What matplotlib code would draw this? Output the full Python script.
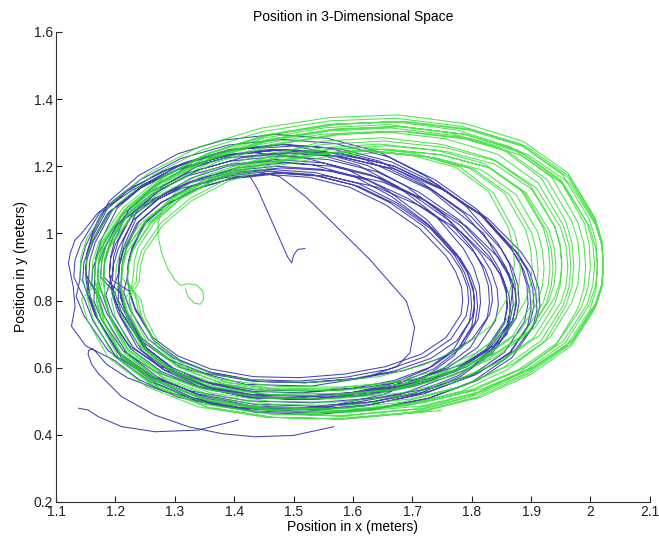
import matplotlib
matplotlib.use("Agg")
import matplotlib.pyplot as plt

plt.rcParams['font.family'] = ['Liberation Sans', 'DejaVu Sans']

# green trajectory: start (small loop, then climb into the band), loops, end
green_start_x = [1.318, 1.322, 1.333, 1.343, 1.349, 1.347, 1.337, 1.322, 1.31, 1.30, 1.288, 1.278, 1.272, 1.272, 1.28, 1.30, 1.34, 1.40, 1.47]
green_start_y = [0.835, 0.812, 0.792, 0.789, 0.805, 0.828, 0.846, 0.85, 0.845, 0.862, 0.895, 0.941, 0.99, 1.03, 1.08, 1.12, 1.165, 1.20, 1.235]

green_loop_x = [
    1.55, 1.65, 1.75, 1.835, 1.90, 1.94, 1.949, 1.952, 1.949, 1.94, 1.905, 1.845, 1.77, 1.68, 1.57, 1.46, 1.36, 1.285, 1.23, 1.20, 1.193,
    1.21, 1.212, 1.219, 1.252, 1.304, 1.37, 1.455, 1.55, 1.645, 1.74, 1.821, 1.883, 1.921, 1.929, 1.932, 1.929, 1.921, 1.888, 1.831, 1.76, 1.675, 1.57, 1.465, 1.37, 1.299, 1.247, 1.219, 1.213,
    1.21, 1.212, 1.219, 1.251, 1.301, 1.365, 1.448, 1.54, 1.632, 1.725, 1.804, 1.864, 1.901, 1.909, 1.912, 1.909, 1.901, 1.869, 1.814, 1.745, 1.662, 1.56, 1.458, 1.365, 1.296, 1.246, 1.219, 1.213,
    1.235, 1.237, 1.244, 1.276, 1.326, 1.39, 1.473, 1.565, 1.657, 1.75, 1.829, 1.889, 1.926, 1.934, 1.937, 1.934, 1.926, 1.894, 1.839, 1.77, 1.687, 1.585, 1.483, 1.39, 1.321, 1.271, 1.244, 1.238,
    1.22, 1.222, 1.229, 1.26, 1.308, 1.37, 1.45, 1.54, 1.63, 1.72, 1.797, 1.855, 1.891, 1.899, 1.902, 1.899, 1.891, 1.86, 1.807, 1.74, 1.66, 1.56, 1.46, 1.37, 1.303, 1.255, 1.229, 1.223,
    1.24, 1.242, 1.249, 1.28, 1.328, 1.39, 1.47, 1.56, 1.65, 1.74, 1.817, 1.875, 1.911, 1.919, 1.922, 1.919, 1.911, 1.88, 1.827, 1.76, 1.68, 1.58, 1.48, 1.39, 1.323, 1.275, 1.249, 1.243,
    1.22, 1.222, 1.228, 1.258, 1.305, 1.365, 1.443, 1.53, 1.617, 1.705, 1.78, 1.837, 1.872, 1.879, 1.882, 1.879, 1.872, 1.842, 1.79, 1.725, 1.647, 1.55, 1.453, 1.365, 1.30, 1.253, 1.228, 1.223,
    1.23, 1.232, 1.238, 1.267, 1.312, 1.37, 1.446, 1.53, 1.614, 1.70, 1.773, 1.828, 1.862, 1.869, 1.872, 1.869, 1.862, 1.833, 1.783, 1.72, 1.644, 1.55, 1.456, 1.37, 1.307, 1.262, 1.238, 1.233,
    1.21, 1.212, 1.22, 1.254, 1.307, 1.375, 1.463, 1.56, 1.657, 1.755, 1.838, 1.901, 1.94, 1.949, 1.952, 1.949, 1.94, 1.906, 1.848, 1.775, 1.687, 1.58, 1.473, 1.375, 1.302, 1.249, 1.22, 1.213,
    1.20, 1.202, 1.21, 1.244, 1.297, 1.365, 1.453, 1.55, 1.647, 1.745, 1.828, 1.891, 1.93, 1.939, 1.942, 1.939, 1.93, 1.896, 1.838, 1.765, 1.677, 1.57, 1.463, 1.365, 1.292, 1.239, 1.21, 1.203,
    1.18, 1.182, 1.19, 1.226, 1.283, 1.355, 1.447, 1.55, 1.653, 1.755, 1.842, 1.909, 1.95, 1.959, 1.962, 1.959, 1.95, 1.914, 1.852, 1.775, 1.683, 1.57, 1.457, 1.355, 1.278, 1.221, 1.19, 1.183,
    1.18, 1.182, 1.191, 1.227, 1.284, 1.357, 1.451, 1.555, 1.659, 1.763, 1.851, 1.918, 1.959, 1.969, 1.972, 1.969, 1.959, 1.923, 1.861, 1.783, 1.689, 1.575, 1.461, 1.357, 1.279, 1.222, 1.191, 1.183,
    1.165, 1.167, 1.176, 1.213, 1.271, 1.345, 1.44, 1.545, 1.65, 1.755, 1.844, 1.912, 1.954, 1.964, 1.967, 1.964, 1.954, 1.917, 1.854, 1.775, 1.68, 1.565, 1.45, 1.345, 1.266, 1.208, 1.176, 1.168,
    1.18, 1.182, 1.191, 1.228, 1.286, 1.36, 1.455, 1.56, 1.665, 1.77, 1.859, 1.927, 1.969, 1.979, 1.982, 1.979, 1.969, 1.932, 1.869, 1.79, 1.695, 1.58, 1.465, 1.36, 1.281, 1.223, 1.191, 1.183,
    1.18, 1.182, 1.191, 1.23, 1.292, 1.37, 1.47, 1.58, 1.69, 1.80, 1.893, 1.965, 2.009, 2.019, 2.022, 2.019, 2.009, 1.97, 1.903, 1.82, 1.72, 1.60, 1.48, 1.37, 1.287, 1.225, 1.191, 1.183,
    1.17, 1.172, 1.181, 1.219, 1.279, 1.355, 1.452, 1.56, 1.668, 1.775, 1.866, 1.936, 1.979, 1.989, 1.992, 1.989, 1.979, 1.941, 1.876, 1.795, 1.698, 1.58, 1.462, 1.355, 1.274, 1.214, 1.181, 1.173,
    1.165, 1.167, 1.176, 1.215, 1.277, 1.355, 1.455, 1.565, 1.675, 1.785, 1.878, 1.95, 1.994, 2.004, 2.007, 2.004, 1.994, 1.955, 1.888, 1.805, 1.705, 1.585, 1.465, 1.355, 1.272, 1.21, 1.176, 1.168,
    1.17, 1.172, 1.181, 1.22, 1.282, 1.36, 1.46, 1.57, 1.68, 1.79, 1.883, 1.955, 1.999, 2.009, 2.012, 2.009, 1.999, 1.96, 1.893, 1.81, 1.71, 1.59, 1.47, 1.36, 1.277, 1.215, 1.181, 1.173,
    1.17, 1.172, 1.182, 1.221, 1.283, 1.362, 1.463, 1.575, 1.687, 1.798, 1.892, 1.964, 2.008, 2.019, 2.022, 2.019, 2.008, 1.969, 1.902, 1.818, 1.717, 1.595, 1.473, 1.362, 1.278, 1.216, 1.182, 1.173,
    1.15, 1.152, 1.162, 1.202, 1.265, 1.345, 1.447, 1.56, 1.673, 1.785, 1.88, 1.953, 1.998, 2.009, 2.012, 2.009, 1.998, 1.958, 1.89, 1.805, 1.703, 1.58, 1.457, 1.345, 1.26, 1.197, 1.162, 1.153,
    1.16, 1.162, 1.172, 1.212, 1.275, 1.355, 1.457, 1.57, 1.683, 1.795, 1.89, 1.963, 2.008, 2.019, 2.022, 2.019, 2.008, 1.968, 1.90, 1.815, 1.713, 1.59, 1.467, 1.355, 1.27, 1.207, 1.172, 1.163,
    1.14, 1.142, 1.152, 1.193, 1.258, 1.34, 1.444, 1.56, 1.676, 1.79, 1.887, 1.962, 2.008, 2.019, 2.022, 2.019, 2.008, 1.967, 1.897, 1.81, 1.706, 1.58, 1.454, 1.34, 1.253, 1.188, 1.152, 1.143,
]
green_loop_y = [
    1.275, 1.285, 1.265, 1.222, 1.14, 1.02, 0.962, 0.90, 0.843, 0.79, 0.69, 0.615, 0.555, 0.515, 0.497, 0.50, 0.525, 0.575, 0.65, 0.75, 0.803,
    0.86, 0.909, 0.955, 1.04, 1.116, 1.178, 1.226, 1.255, 1.266, 1.248, 1.208, 1.13, 1.015, 0.959, 0.90, 0.846, 0.795, 0.70, 0.629, 0.572, 0.534, 0.517, 0.519, 0.542, 0.589, 0.66, 0.755, 0.806,
    0.85, 0.898, 0.942, 1.025, 1.099, 1.159, 1.206, 1.235, 1.246, 1.229, 1.191, 1.115, 1.002, 0.948, 0.89, 0.837, 0.788, 0.695, 0.626, 0.571, 0.534, 0.517, 0.519, 0.541, 0.586, 0.655, 0.748, 0.797,
    0.855, 0.903, 0.947, 1.03, 1.104, 1.164, 1.211, 1.24, 1.251, 1.234, 1.196, 1.12, 1.007, 0.953, 0.895, 0.842, 0.793, 0.70, 0.631, 0.576, 0.539, 0.522, 0.524, 0.546, 0.591, 0.66, 0.753, 0.802,
    0.86, 0.907, 0.95, 1.03, 1.102, 1.16, 1.206, 1.235, 1.246, 1.23, 1.194, 1.12, 1.01, 0.957, 0.90, 0.848, 0.80, 0.71, 0.643, 0.59, 0.554, 0.537, 0.539, 0.56, 0.603, 0.67, 0.76, 0.808,
    0.855, 0.902, 0.945, 1.025, 1.097, 1.155, 1.201, 1.23, 1.241, 1.225, 1.189, 1.115, 1.005, 0.952, 0.895, 0.843, 0.795, 0.705, 0.638, 0.585, 0.549, 0.532, 0.534, 0.555, 0.598, 0.665, 0.755, 0.803,
    0.85, 0.899, 0.945, 1.03, 1.106, 1.168, 1.216, 1.245, 1.256, 1.238, 1.198, 1.12, 1.005, 0.949, 0.89, 0.836, 0.785, 0.69, 0.619, 0.562, 0.524, 0.507, 0.509, 0.532, 0.579, 0.65, 0.745, 0.796,
    0.87, 0.915, 0.957, 1.035, 1.105, 1.162, 1.207, 1.235, 1.247, 1.232, 1.197, 1.125, 1.017, 0.965, 0.91, 0.86, 0.813, 0.725, 0.66, 0.608, 0.573, 0.557, 0.558, 0.578, 0.62, 0.685, 0.773, 0.82,
    0.87, 0.917, 0.961, 1.042, 1.115, 1.175, 1.221, 1.25, 1.261, 1.245, 1.207, 1.132, 1.021, 0.967, 0.91, 0.858, 0.809, 0.718, 0.65, 0.595, 0.559, 0.542, 0.544, 0.565, 0.61, 0.678, 0.769, 0.818,
    0.86, 0.907, 0.951, 1.032, 1.105, 1.165, 1.211, 1.24, 1.251, 1.235, 1.197, 1.122, 1.011, 0.957, 0.90, 0.848, 0.799, 0.708, 0.64, 0.585, 0.549, 0.532, 0.534, 0.555, 0.60, 0.668, 0.759, 0.808,
    0.86, 0.911, 0.957, 1.045, 1.123, 1.186, 1.235, 1.265, 1.275, 1.256, 1.215, 1.135, 1.017, 0.961, 0.90, 0.844, 0.793, 0.695, 0.622, 0.564, 0.525, 0.507, 0.51, 0.534, 0.582, 0.655, 0.753, 0.804,
    0.865, 0.922, 0.974, 1.073, 1.16, 1.23, 1.284, 1.315, 1.324, 1.30, 1.252, 1.163, 1.034, 0.972, 0.905, 0.843, 0.786, 0.677, 0.595, 0.53, 0.486, 0.467, 0.471, 0.50, 0.555, 0.637, 0.746, 0.803,
    0.86, 0.915, 0.965, 1.06, 1.144, 1.212, 1.264, 1.295, 1.304, 1.282, 1.236, 1.15, 1.025, 0.965, 0.90, 0.84, 0.785, 0.68, 0.601, 0.538, 0.496, 0.477, 0.481, 0.508, 0.561, 0.64, 0.745, 0.80,
    0.87, 0.925, 0.975, 1.07, 1.154, 1.222, 1.274, 1.305, 1.314, 1.292, 1.246, 1.16, 1.035, 0.975, 0.91, 0.85, 0.795, 0.69, 0.611, 0.548, 0.506, 0.487, 0.491, 0.518, 0.571, 0.65, 0.755, 0.81,
    0.86, 0.915, 0.965, 1.06, 1.144, 1.212, 1.264, 1.295, 1.304, 1.282, 1.236, 1.15, 1.025, 0.965, 0.90, 0.84, 0.785, 0.68, 0.601, 0.538, 0.496, 0.477, 0.481, 0.508, 0.561, 0.64, 0.745, 0.80,
    0.86, 0.919, 0.973, 1.075, 1.165, 1.238, 1.293, 1.325, 1.333, 1.308, 1.257, 1.165, 1.033, 0.969, 0.90, 0.836, 0.777, 0.665, 0.58, 0.512, 0.467, 0.447, 0.452, 0.482, 0.54, 0.625, 0.737, 0.796,
    0.865, 0.921, 0.973, 1.07, 1.156, 1.226, 1.279, 1.31, 1.319, 1.296, 1.248, 1.16, 1.033, 0.971, 0.905, 0.844, 0.787, 0.68, 0.599, 0.534, 0.491, 0.472, 0.476, 0.504, 0.559, 0.64, 0.747, 0.804,
    0.85, 0.906, 0.958, 1.055, 1.141, 1.211, 1.264, 1.295, 1.304, 1.281, 1.233, 1.145, 1.018, 0.956, 0.89, 0.829, 0.772, 0.665, 0.584, 0.519, 0.476, 0.457, 0.461, 0.489, 0.544, 0.625, 0.732, 0.789,
    0.87, 0.927, 0.98, 1.08, 1.168, 1.24, 1.294, 1.325, 1.334, 1.31, 1.26, 1.17, 1.04, 0.977, 0.91, 0.848, 0.79, 0.68, 0.597, 0.53, 0.486, 0.467, 0.471, 0.50, 0.557, 0.64, 0.75, 0.808,
    0.87, 0.929, 0.983, 1.085, 1.175, 1.248, 1.303, 1.335, 1.343, 1.318, 1.267, 1.175, 1.043, 0.979, 0.91, 0.846, 0.787, 0.675, 0.59, 0.522, 0.477, 0.457, 0.462, 0.492, 0.55, 0.635, 0.747, 0.806,
    0.86, 0.919, 0.973, 1.075, 1.165, 1.238, 1.293, 1.325, 1.333, 1.308, 1.257, 1.165, 1.033, 0.969, 0.90, 0.836, 0.777, 0.665, 0.58, 0.512, 0.467, 0.447, 0.452, 0.482, 0.54, 0.625, 0.737, 0.796,
    0.87, 0.93, 0.986, 1.09, 1.182, 1.257, 1.313, 1.345, 1.353, 1.327, 1.274, 1.18, 1.046, 0.98, 0.91, 0.845, 0.784, 0.67, 0.583, 0.513, 0.467, 0.447, 0.452, 0.483, 0.543, 0.63, 0.744, 0.805,
]
green_end_x = [1.175, 1.177, 1.185, 1.22, 1.28, 1.36, 1.46, 1.57, 1.68, 1.79, 1.88, 1.95, 1.99, 1.998, 2.0, 1.996, 1.985, 1.945, 1.88, 1.80, 1.70, 1.60, 1.50, 1.60, 1.749]
green_end_y = [0.86, 0.915, 0.97, 1.07, 1.155, 1.225, 1.28, 1.31, 1.318, 1.295, 1.245, 1.155, 1.03, 0.965, 0.90, 0.84, 0.78, 0.675, 0.595, 0.535, 0.495, 0.472, 0.463, 0.452, 0.472]

# blue trajectory: start hook + first inner loop, loops, wide loop, hook and bottom tail
blue_start_x = [1.519, 1.507, 1.50, 1.497, 1.49, 1.47, 1.45, 1.44, 1.427, 1.45, 1.477, 1.52, 1.561, 1.629, 1.69, 1.704, 1.696, 1.674, 1.62, 1.53, 1.42, 1.31, 1.235, 1.205]
blue_start_y = [0.955, 0.952, 0.935, 0.912, 0.93, 1.01, 1.09, 1.13, 1.169, 1.18, 1.169, 1.11, 1.04, 0.921, 0.798, 0.72, 0.644, 0.603, 0.57, 0.545, 0.55, 0.60, 0.70, 0.80]

blue_loop_x = [
    1.205, 1.207, 1.214, 1.236, 1.276, 1.33, 1.393, 1.465, 1.537, 1.61, 1.674, 1.734, 1.781, 1.798, 1.808, 1.81, 1.806, 1.779, 1.734, 1.67, 1.597, 1.515, 1.433, 1.355, 1.296, 1.251, 1.219, 1.209,
    1.205, 1.207, 1.214, 1.235, 1.275, 1.328, 1.389, 1.46, 1.531, 1.602, 1.665, 1.725, 1.771, 1.788, 1.798, 1.80, 1.796, 1.77, 1.725, 1.662, 1.591, 1.51, 1.429, 1.353, 1.295, 1.25, 1.219, 1.209,
    1.21, 1.212, 1.219, 1.24, 1.278, 1.33, 1.39, 1.46, 1.53, 1.60, 1.662, 1.72, 1.766, 1.783, 1.793, 1.795, 1.791, 1.765, 1.722, 1.66, 1.59, 1.51, 1.43, 1.355, 1.298, 1.255, 1.224, 1.214,
    1.22, 1.222, 1.229, 1.25, 1.288, 1.34, 1.40, 1.47, 1.54, 1.61, 1.672, 1.73, 1.776, 1.793, 1.803, 1.805, 1.801, 1.775, 1.732, 1.67, 1.60, 1.52, 1.44, 1.365, 1.308, 1.265, 1.234, 1.224,
    1.22, 1.222, 1.228, 1.248, 1.285, 1.335, 1.393, 1.46, 1.527, 1.595, 1.655, 1.712, 1.757, 1.773, 1.783, 1.785, 1.782, 1.757, 1.715, 1.655, 1.587, 1.51, 1.433, 1.36, 1.305, 1.263, 1.233, 1.224,
    1.195, 1.197, 1.205, 1.23, 1.275, 1.335, 1.405, 1.485, 1.565, 1.645, 1.715, 1.78, 1.83, 1.848, 1.858, 1.86, 1.855, 1.825, 1.775, 1.705, 1.625, 1.535, 1.445, 1.36, 1.295, 1.245, 1.21, 1.199,
    1.19, 1.192, 1.20, 1.224, 1.267, 1.325, 1.393, 1.47, 1.547, 1.625, 1.693, 1.756, 1.805, 1.823, 1.833, 1.835, 1.83, 1.801, 1.753, 1.685, 1.607, 1.52, 1.433, 1.35, 1.287, 1.239, 1.205, 1.194,
    1.19, 1.192, 1.199, 1.222, 1.264, 1.32, 1.385, 1.46, 1.535, 1.61, 1.676, 1.738, 1.786, 1.803, 1.813, 1.815, 1.811, 1.783, 1.736, 1.67, 1.595, 1.51, 1.425, 1.345, 1.284, 1.237, 1.204, 1.194,
    1.205, 1.207, 1.214, 1.237, 1.279, 1.335, 1.40, 1.475, 1.55, 1.625, 1.691, 1.753, 1.801, 1.818, 1.828, 1.83, 1.826, 1.798, 1.751, 1.685, 1.61, 1.525, 1.44, 1.36, 1.299, 1.252, 1.219, 1.209,
    1.18, 1.182, 1.19, 1.215, 1.26, 1.32, 1.39, 1.47, 1.55, 1.63, 1.70, 1.765, 1.815, 1.833, 1.843, 1.845, 1.84, 1.81, 1.76, 1.69, 1.61, 1.52, 1.43, 1.345, 1.28, 1.23, 1.195, 1.184,
    1.195, 1.197, 1.205, 1.231, 1.278, 1.34, 1.412, 1.495, 1.578, 1.66, 1.732, 1.799, 1.85, 1.868, 1.878, 1.88, 1.875, 1.844, 1.792, 1.72, 1.638, 1.545, 1.452, 1.365, 1.298, 1.246, 1.21, 1.199,
    1.175, 1.177, 1.185, 1.211, 1.258, 1.32, 1.392, 1.475, 1.558, 1.64, 1.712, 1.779, 1.83, 1.848, 1.858, 1.86, 1.855, 1.824, 1.772, 1.70, 1.618, 1.525, 1.432, 1.345, 1.278, 1.226, 1.19, 1.179,
    1.17, 1.172, 1.181, 1.208, 1.256, 1.32, 1.395, 1.48, 1.565, 1.65, 1.724, 1.792, 1.844, 1.863, 1.873, 1.875, 1.869, 1.837, 1.784, 1.71, 1.625, 1.53, 1.435, 1.345, 1.276, 1.223, 1.186, 1.174,
    1.16, 1.162, 1.171, 1.198, 1.246, 1.31, 1.385, 1.47, 1.555, 1.64, 1.714, 1.782, 1.834, 1.853, 1.863, 1.865, 1.859, 1.827, 1.774, 1.70, 1.615, 1.52, 1.425, 1.335, 1.266, 1.213, 1.176, 1.164,
    1.165, 1.167, 1.176, 1.203, 1.251, 1.315, 1.39, 1.475, 1.56, 1.645, 1.719, 1.787, 1.839, 1.858, 1.868, 1.87, 1.864, 1.832, 1.779, 1.705, 1.62, 1.525, 1.43, 1.34, 1.271, 1.218, 1.181, 1.169,
    1.15, 1.152, 1.161, 1.19, 1.242, 1.31, 1.39, 1.48, 1.57, 1.66, 1.738, 1.81, 1.864, 1.883, 1.893, 1.895, 1.889, 1.855, 1.798, 1.72, 1.63, 1.53, 1.43, 1.335, 1.262, 1.205, 1.166, 1.154,
    1.155, 1.157, 1.166, 1.195, 1.247, 1.315, 1.395, 1.485, 1.575, 1.665, 1.743, 1.815, 1.869, 1.888, 1.898, 1.90, 1.894, 1.86, 1.803, 1.725, 1.635, 1.535, 1.435, 1.34, 1.267, 1.21, 1.171, 1.159,
    1.15, 1.152, 1.161, 1.189, 1.239, 1.305, 1.382, 1.47, 1.558, 1.645, 1.721, 1.791, 1.844, 1.863, 1.873, 1.875, 1.869, 1.836, 1.781, 1.705, 1.618, 1.52, 1.422, 1.33, 1.259, 1.204, 1.166, 1.154,
    1.15, 1.152, 1.162, 1.191, 1.243, 1.312, 1.393, 1.485, 1.577, 1.668, 1.747, 1.819, 1.873, 1.893, 1.903, 1.905, 1.898, 1.864, 1.807, 1.728, 1.637, 1.535, 1.433, 1.337, 1.263, 1.206, 1.167, 1.154,
    1.145, 1.147, 1.157, 1.187, 1.24, 1.31, 1.392, 1.485, 1.578, 1.67, 1.75, 1.823, 1.878, 1.898, 1.908, 1.91, 1.903, 1.868, 1.81, 1.73, 1.638, 1.535, 1.432, 1.335, 1.26, 1.202, 1.162, 1.149,
    1.13, 1.132, 1.142, 1.173, 1.228, 1.30, 1.384, 1.48, 1.576, 1.67, 1.752, 1.827, 1.883, 1.903, 1.913, 1.915, 1.908, 1.872, 1.812, 1.73, 1.636, 1.53, 1.424, 1.325, 1.248, 1.188, 1.147, 1.134,
    1.14, 1.142, 1.15, 1.175, 1.22, 1.28, 1.35, 1.43, 1.51, 1.59, 1.66, 1.725, 1.775, 1.793, 1.803, 1.805, 1.80, 1.77, 1.72, 1.65, 1.57, 1.48, 1.39, 1.305, 1.24,
]
blue_loop_y = [
    0.86, 0.905, 0.95, 1.03, 1.091, 1.143, 1.176, 1.19, 1.181, 1.148, 1.091, 1.015, 0.925, 0.875, 0.825, 0.78, 0.735, 0.66, 0.604, 0.562, 0.537, 0.525, 0.529, 0.555, 0.599, 0.66, 0.755, 0.808,
    0.865, 0.913, 0.96, 1.045, 1.11, 1.165, 1.20, 1.215, 1.205, 1.17, 1.11, 1.03, 0.935, 0.883, 0.83, 0.782, 0.735, 0.655, 0.595, 0.55, 0.523, 0.51, 0.515, 0.543, 0.59, 0.655, 0.755, 0.81,
    0.875, 0.918, 0.96, 1.035, 1.092, 1.14, 1.171, 1.185, 1.176, 1.145, 1.092, 1.02, 0.935, 0.888, 0.84, 0.797, 0.755, 0.685, 0.633, 0.595, 0.572, 0.56, 0.564, 0.588, 0.628, 0.685, 0.775, 0.825,
    0.87, 0.913, 0.955, 1.03, 1.087, 1.135, 1.166, 1.18, 1.171, 1.14, 1.087, 1.015, 0.93, 0.883, 0.835, 0.792, 0.75, 0.68, 0.628, 0.59, 0.567, 0.555, 0.559, 0.583, 0.623, 0.68, 0.77, 0.82,
    0.875, 0.916, 0.957, 1.03, 1.085, 1.132, 1.162, 1.175, 1.167, 1.137, 1.085, 1.015, 0.932, 0.886, 0.84, 0.799, 0.758, 0.69, 0.64, 0.603, 0.581, 0.57, 0.573, 0.596, 0.635, 0.69, 0.778, 0.827,
    0.86, 0.908, 0.955, 1.04, 1.105, 1.16, 1.195, 1.21, 1.20, 1.165, 1.105, 1.025, 0.93, 0.878, 0.825, 0.777, 0.73, 0.65, 0.59, 0.545, 0.518, 0.505, 0.51, 0.538, 0.585, 0.65, 0.75, 0.805,
    0.88, 0.924, 0.967, 1.045, 1.104, 1.154, 1.186, 1.20, 1.191, 1.159, 1.104, 1.03, 0.942, 0.894, 0.845, 0.801, 0.758, 0.685, 0.631, 0.591, 0.567, 0.555, 0.559, 0.584, 0.626, 0.685, 0.778, 0.829,
    0.88, 0.931, 0.98, 1.07, 1.139, 1.197, 1.234, 1.25, 1.239, 1.202, 1.139, 1.055, 0.955, 0.901, 0.845, 0.794, 0.745, 0.66, 0.596, 0.548, 0.519, 0.505, 0.511, 0.541, 0.591, 0.66, 0.765, 0.822,
    0.88, 0.931, 0.98, 1.07, 1.139, 1.197, 1.234, 1.25, 1.239, 1.202, 1.139, 1.055, 0.955, 0.901, 0.845, 0.794, 0.745, 0.66, 0.596, 0.548, 0.519, 0.505, 0.511, 0.541, 0.591, 0.66, 0.765, 0.822,
    0.87, 0.918, 0.965, 1.05, 1.115, 1.17, 1.205, 1.22, 1.21, 1.175, 1.115, 1.035, 0.94, 0.888, 0.835, 0.787, 0.74, 0.66, 0.60, 0.555, 0.528, 0.515, 0.52, 0.548, 0.595, 0.66, 0.76, 0.815,
    0.88, 0.929, 0.978, 1.065, 1.132, 1.189, 1.225, 1.24, 1.23, 1.194, 1.132, 1.05, 0.953, 0.899, 0.845, 0.796, 0.747, 0.665, 0.603, 0.556, 0.528, 0.515, 0.52, 0.549, 0.598, 0.665, 0.767, 0.824,
    0.87, 0.919, 0.968, 1.055, 1.122, 1.179, 1.215, 1.23, 1.22, 1.184, 1.122, 1.04, 0.943, 0.889, 0.835, 0.786, 0.737, 0.655, 0.593, 0.546, 0.518, 0.505, 0.51, 0.539, 0.588, 0.655, 0.757, 0.814,
    0.865, 0.91, 0.955, 1.035, 1.096, 1.148, 1.181, 1.195, 1.186, 1.153, 1.096, 1.02, 0.93, 0.88, 0.83, 0.785, 0.74, 0.665, 0.609, 0.567, 0.542, 0.53, 0.534, 0.56, 0.604, 0.665, 0.76, 0.813,
    0.85, 0.895, 0.94, 1.02, 1.081, 1.133, 1.166, 1.18, 1.171, 1.138, 1.081, 1.005, 0.915, 0.865, 0.815, 0.77, 0.725, 0.65, 0.594, 0.552, 0.527, 0.515, 0.519, 0.545, 0.589, 0.65, 0.745, 0.798,
    0.875, 0.928, 0.98, 1.075, 1.148, 1.21, 1.249, 1.265, 1.254, 1.215, 1.148, 1.06, 0.955, 0.898, 0.84, 0.787, 0.735, 0.645, 0.577, 0.525, 0.494, 0.48, 0.486, 0.518, 0.572, 0.645, 0.755, 0.815,
    0.88, 0.935, 0.988, 1.085, 1.16, 1.223, 1.263, 1.28, 1.268, 1.228, 1.16, 1.07, 0.963, 0.905, 0.845, 0.79, 0.737, 0.645, 0.575, 0.522, 0.49, 0.475, 0.482, 0.515, 0.57, 0.645, 0.757, 0.818,
    0.865, 0.92, 0.973, 1.07, 1.145, 1.208, 1.248, 1.265, 1.253, 1.213, 1.145, 1.055, 0.948, 0.89, 0.83, 0.775, 0.722, 0.63, 0.56, 0.507, 0.475, 0.46, 0.467, 0.50, 0.555, 0.63, 0.742, 0.803,
    0.885, 0.941, 0.996, 1.095, 1.172, 1.237, 1.278, 1.295, 1.283, 1.242, 1.172, 1.08, 0.971, 0.911, 0.85, 0.794, 0.739, 0.645, 0.573, 0.518, 0.485, 0.47, 0.477, 0.511, 0.568, 0.645, 0.759, 0.822,
    0.87, 0.922, 0.973, 1.065, 1.136, 1.196, 1.234, 1.25, 1.239, 1.201, 1.136, 1.05, 0.948, 0.892, 0.835, 0.783, 0.732, 0.645, 0.579, 0.529, 0.499, 0.485, 0.491, 0.522, 0.574, 0.645, 0.752, 0.811,
    0.86, 0.913, 0.965, 1.06, 1.133, 1.195, 1.234, 1.25, 1.239, 1.20, 1.133, 1.045, 0.94, 0.883, 0.825, 0.772, 0.72, 0.63, 0.562, 0.51, 0.479, 0.465, 0.471, 0.503, 0.557, 0.63, 0.74, 0.80,
    0.87, 0.921, 0.97, 1.06, 1.129, 1.187, 1.224, 1.24, 1.229, 1.192, 1.129, 1.045, 0.945, 0.891, 0.835, 0.784, 0.735, 0.65, 0.586, 0.538, 0.509, 0.495, 0.501, 0.531, 0.581, 0.65, 0.755, 0.812,
    0.86, 0.912, 0.963, 1.055, 1.126, 1.186, 1.224, 1.24, 1.229, 1.191, 1.126, 1.04, 0.938, 0.882, 0.825, 0.773, 0.722, 0.635, 0.569, 0.519, 0.489, 0.475, 0.481, 0.512, 0.564,
]
blue_end_x = [1.20, 1.15, 1.126, 1.132, 1.129, 1.121, 1.124, 1.132, 1.143, 1.17, 1.22, 1.30, 1.40, 1.50, 1.62, 1.73, 1.82, 1.87,
              1.86, 1.80, 1.68, 1.55, 1.40, 1.28, 1.22, 1.185, 1.168, 1.162, 1.155, 1.154, 1.16, 1.171, 1.21, 1.266,
              1.323, 1.38, 1.435, 1.50, 1.568]
blue_end_y = [0.62, 0.665, 0.723, 0.782, 0.841, 0.911, 0.941, 0.98, 1.00, 1.06, 1.13, 1.20, 1.25, 1.26, 1.22, 1.13, 1.00, 0.85,
              0.70, 0.60, 0.52, 0.48, 0.48, 0.53, 0.57, 0.61, 0.645, 0.656, 0.652, 0.64, 0.61, 0.583, 0.514, 0.459,
              0.424, 0.403, 0.394, 0.398, 0.424]
blue_tail_x = [1.407, 1.34, 1.267, 1.211, 1.171, 1.154, 1.138]
blue_tail_y = [0.444, 0.414, 0.409, 0.424, 0.454, 0.474, 0.479]

blue_x = blue_start_x + blue_loop_x + blue_end_x
blue_y = blue_start_y + blue_loop_y + blue_end_y
green_x = green_start_x + green_loop_x + green_end_x
green_y = green_start_y + green_loop_y + green_end_y

x_ticks = [1.1, 1.2, 1.3, 1.4, 1.5, 1.6, 1.7, 1.8, 1.9, 2.0, 2.1]
x_labels = ["1.1", "1.2", "1.3", "1.4", "1.5", "1.6", "1.7", "1.8", "1.9", "2", "2.1"]
y_ticks = [0.2, 0.4, 0.6, 0.8, 1.0, 1.2, 1.4, 1.6]
y_labels = ["0.2", "0.4", "0.6", "0.8", "1", "1.2", "1.4", "1.6"]

blue = "#2323a8"
green = "#25dd25"

fig = plt.figure(figsize=(6.59, 5.42), dpi=100)
ax = fig.add_axes([0.085, 0.074, 0.901, 0.867])

ax.plot(blue_x, blue_y, color=blue, lw=0.75, alpha=0.85)
ax.plot(blue_tail_x, blue_tail_y, color=blue, lw=0.75, alpha=0.85)
ax.plot(green_x, green_y, color=green, lw=0.75, alpha=0.8)

ax.set_xlim(1.1, 2.1)
ax.set_ylim(0.2, 1.6)
ax.set_xticks(x_ticks)
ax.set_xticklabels(x_labels)
ax.set_yticks(y_ticks)
ax.set_yticklabels(y_labels)
ax.tick_params(direction="in", length=4, width=0.8, labelsize=10, pad=2, colors="#222222")
for s in ["top", "right"]:
    ax.spines[s].set_visible(False)
for s in ["left", "bottom"]:
    ax.spines[s].set_linewidth(0.8)
    ax.spines[s].set_color("#333333")

ax.set_title("Position in 3-Dimensional Space", fontsize=10, pad=8)
ax.set_xlabel("Position in x (meters)", fontsize=10, labelpad=1)
ax.set_ylabel("Position in y (meters)", fontsize=10, labelpad=4)

fig.savefig("out.png", dpi=100)
